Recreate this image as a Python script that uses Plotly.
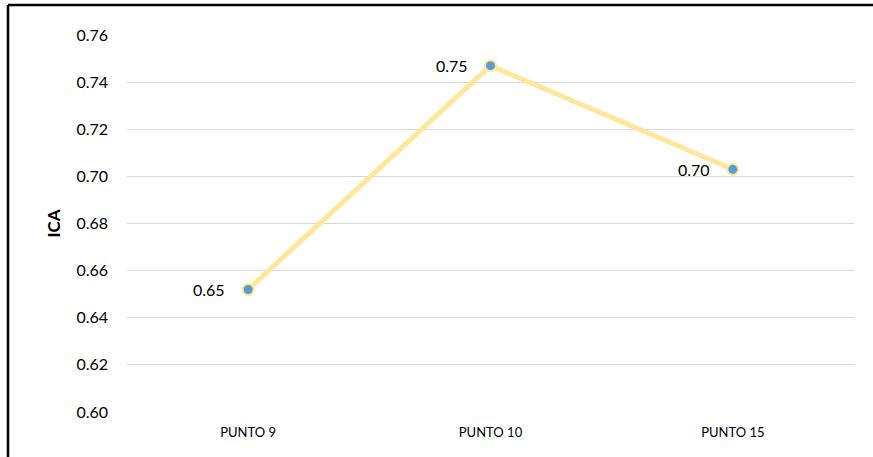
import plotly.graph_objects as go

categories = ["PUNTO 9", "PUNTO 10", "PUNTO 15"]
ica_values = [0.652, 0.747, 0.703]
y_ticks = [0.60, 0.62, 0.64, 0.66, 0.68, 0.70, 0.72, 0.74, 0.76]

fig = go.Figure()
fig.add_trace(go.Scatter(
    x=categories, y=ica_values, mode="lines+markers",
    line=dict(color="#FFE699", width=5),
    marker=dict(color="#5B9BD5", size=11, line=dict(color="#FFE699", width=2)),
    hoverinfo="x+y", showlegend=False,
))

for c, v in zip(categories, ica_values):
    fig.add_annotation(x=c, y=v, text=f"{v:.2f}", showarrow=False,
                       xanchor="right", yanchor="middle", xshift=-21,
                       font=dict(family="Lato, Open Sans, sans-serif", size=16, color="#000000"))

# frame (left and top edges visible)
fx = (8 - 127) / 727
fy = (412 - 5) / 377
fig.add_shape(type="line", xref="paper", yref="paper",
              x0=fx, x1=1.05, y0=fy, y1=fy,
              line=dict(color="#000000", width=2.5))
fig.add_shape(type="line", xref="paper", yref="paper",
              x0=fx, x1=fx, y0=-0.2, y1=fy,
              line=dict(color="#000000", width=2.5))

fig.update_layout(
    width=873, height=457,
    margin=dict(l=127, r=19, t=35, b=45),
    paper_bgcolor="#FFFFFF", plot_bgcolor="#FFFFFF",
    font=dict(family="Lato, Open Sans, sans-serif", color="#000000"),
    xaxis=dict(type="category", range=[-0.5, 2.5], showgrid=False, showline=False,
               zeroline=False, ticks="", tickfont=dict(size=13), ticklabelstandoff=11),
    yaxis=dict(range=[0.60, 0.76], tickvals=y_ticks, ticktext=[f"{t:.2f}" for t in y_ticks],
               showgrid=True, gridcolor="#D9D9D9", gridwidth=1, zeroline=False,
               showline=False, ticks="", tickfont=dict(size=16), ticklabelstandoff=18,
               title=dict(text="<b>ICA</b>", font=dict(size=17), standoff=11)),
)

fig.write_html("out.html", config={"displayModeBar": False},
               post_script="document.body.style.margin='0';document.body.style.overflow='hidden';")
